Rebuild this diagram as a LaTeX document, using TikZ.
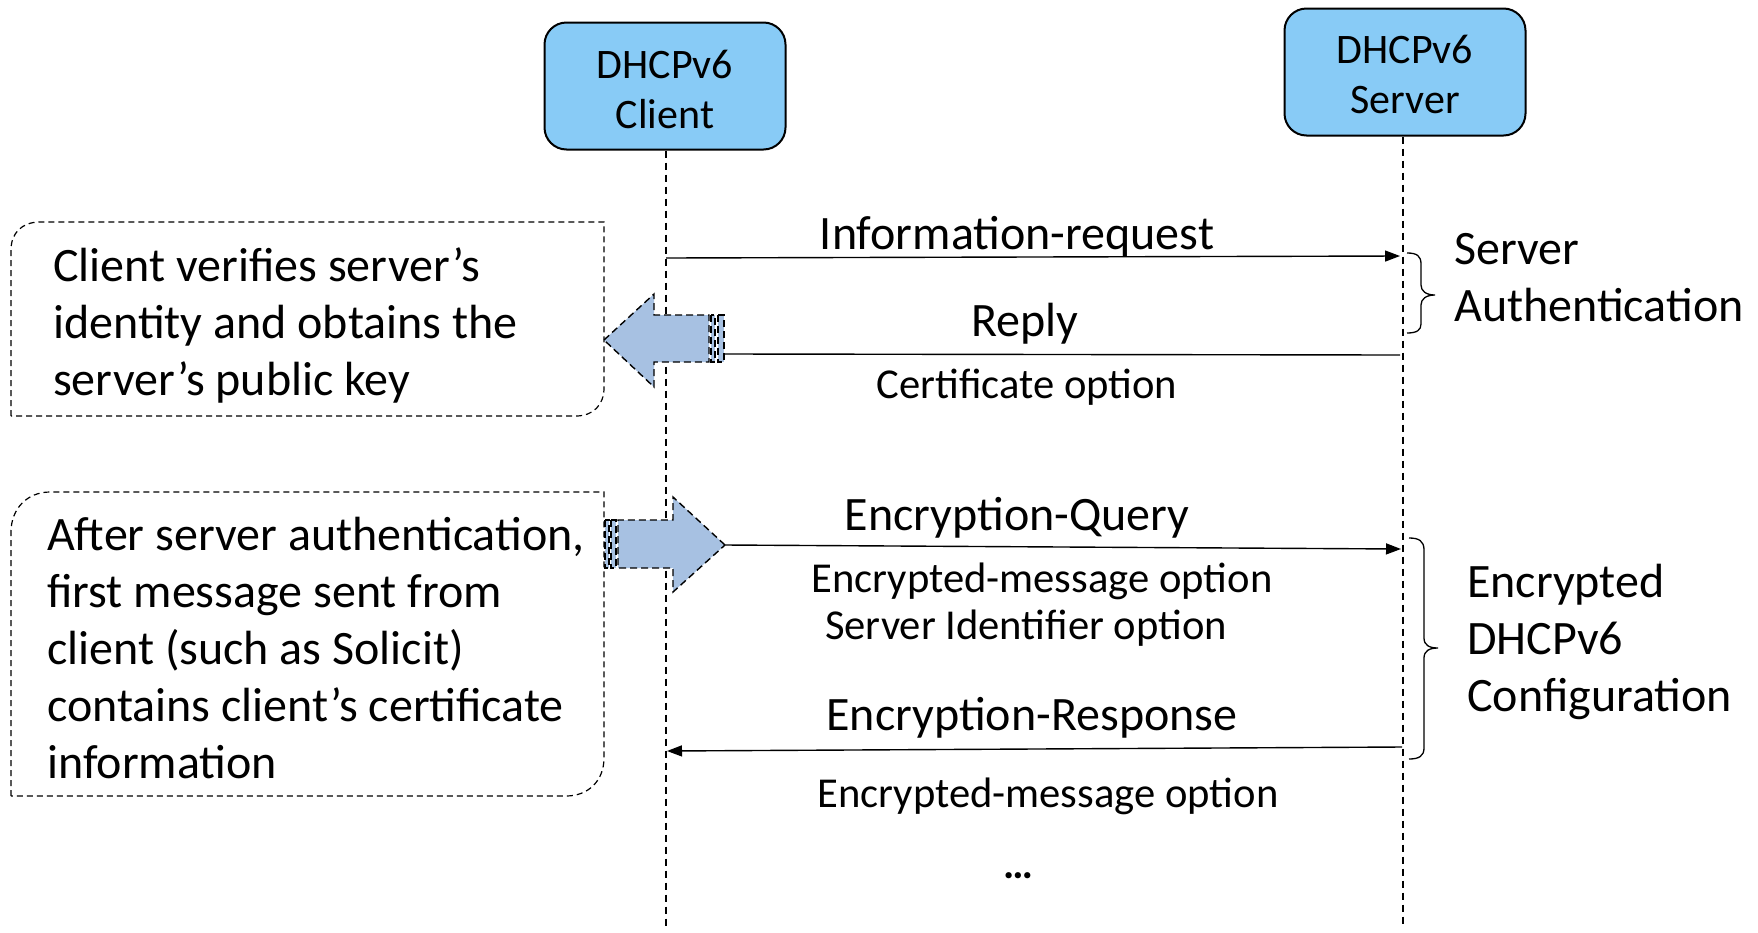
\documentclass[tikz,border=0pt]{standalone}
\usepackage{fontspec}
\setmainfont{Carlito}
\usetikzlibrary{arrows.meta}
\definecolor{boxblue}{HTML}{88CBF6}
\definecolor{arrblue}{HTML}{A7C1E2}
\begin{document}
\begin{tikzpicture}[x=1pt,y=-1pt,
  actor/.style={draw=black,line width=2pt,fill=boxblue,rounded corners=22pt,minimum width=241pt,minimum height=127pt,align=center,font=\fontsize{42}{50}\selectfont},
  life/.style={line width=1.3pt,dash pattern=on 7pt off 5pt},
  msg/.style={line width=1.4pt,-{Triangle[length=15pt,width=11pt]}},
  plain/.style={line width=1.4pt},
  lbl/.style={font=\fontsize{48}{56}\selectfont,inner sep=0pt,anchor=base},
  opt/.style={font=\fontsize{42.6}{47}\selectfont,inner sep=0pt,anchor=base},
  note/.style={draw=black,line width=1.2pt,dash pattern=on 6pt off 4pt},
  notetext/.style={font=\fontsize{48}{57}\selectfont,align=left,inner sep=0pt,anchor=west},
  blockarrow/.style={fill=arrblue,draw=black,line width=1.4pt,dash pattern=on 7pt off 4pt},
  brace/.style={line width=1.3pt},
  bracetext/.style={font=\fontsize{48}{57}\selectfont,align=left,inner sep=0pt,anchor=west}]
\useasboundingbox (0,0) rectangle (1758,932);

% actors
\node[actor] (client) at (665,86) {\rule{0pt}{35pt}DHCPv6\\Client};
\node[actor] (server) at (1405,72) {\rule{0pt}{33pt}DHCPv6\\Server};

% lifelines
\coordinate (cbot) at (666,928);
\coordinate (sbot) at (1403,928);
\draw[life] (client.south -| cbot) -- (cbot);
\draw[life] (server.south -| sbot) -- (sbot);

% notes
\draw[note] (11,416) -- (11,250) .. controls (11,233) and (22,222) .. (40,222) -- (604,222) -- (604,388) .. controls (604,405) and (593,416) .. (576,416) -- cycle;
\node[notetext] (n1) at (53,325) {Client verifies server’s\\identity and obtains the\\server’s public key};

\draw[note] (11,796) -- (11,532) .. controls (11,509) and (27,492) .. (50,492) -- (604,492) -- (604,758) .. controls (604,780) and (589,796) .. (566,796) -- cycle;
\node[notetext] (n2) at (47,648) {After server authentication,\\first message sent from\\client (such as Solicit)\\contains client’s certificate\\information};

% block arrow 1 (pointing left)
\draw[blockarrow] (604,340) -- (654,294) -- (654,315) -- (709,315) -- (709,362) -- (654,362) -- (654,387) -- cycle;
\draw[blockarrow] (711,315) rectangle (715,362);
\draw[blockarrow] (718,315) rectangle (724,362);
\coordinate (b1tail) at (724,354);

% block arrow 2 (pointing right)
\draw[blockarrow] (725,545) -- (673,497) -- (673,520) -- (618,520) -- (618,568) -- (673,568) -- (673,592) -- cycle;
\draw[blockarrow] (605,520) rectangle (609,568);
\draw[blockarrow] (611,520) rectangle (616,568);
\coordinate (b2tip) at (725,545);

% message endpoints
\coordinate (c1) at (666,258);
\coordinate (s1) at (1400,256);
\coordinate (s2) at (1400,355);
\coordinate (s3) at (1401,549);
\coordinate (s4) at (1402,747);
\coordinate (c4) at (667,751);

% messages
\draw[msg] (c1) -- (s1);
\node[lbl] (m1) at (1017,249) {Information-request};

\draw[plain] (s2) -- (b1tail);
\node[lbl] (m2) at (1025,336) {Reply};
\node[opt] (o2) at (1027,398) {Certificate option};

\draw[msg] (b2tip) -- (s3);
\node[lbl] (m3) at (1017,530) {Encryption-Query};
\node[opt] (o3a) at (1042,592) {Encrypted-message option};
\node[opt] (o3b) at (1026,639) {Server Identifier option};

\draw[msg] (s4) -- (c4);
\node[lbl] (m4) at (1032,730) {Encryption-Response};
\node[opt] (o4) at (1048,807) {Encrypted-message option};
\node[opt,font=\fontsize{42}{47}\selectfont\bfseries] (dots) at (1018,878) {…};

% braces
\draw[brace] (1407,253) .. controls (1417,253) and (1421,256) .. (1421,264) -- (1421,285) .. controls (1421,291) and (1426,295) .. (1435,295) .. controls (1426,295) and (1421,299) .. (1421,305) -- (1421,324) .. controls (1421,330) and (1417,333) .. (1407,333);
\node[bracetext] (t1) at (1454,278) {Server\\Authentication};

\draw[brace] (1409,538) .. controls (1419,538) and (1424,541) .. (1424,550) -- (1424,638) .. controls (1424,645) and (1429,648) .. (1438,648) .. controls (1429,648) and (1424,651) .. (1424,658) -- (1424,748) .. controls (1424,756) and (1419,759) .. (1409,759);
\node[bracetext] (t2) at (1467,642) {Encrypted\\DHCPv6\\Configuration};
\end{tikzpicture}
\end{document}
